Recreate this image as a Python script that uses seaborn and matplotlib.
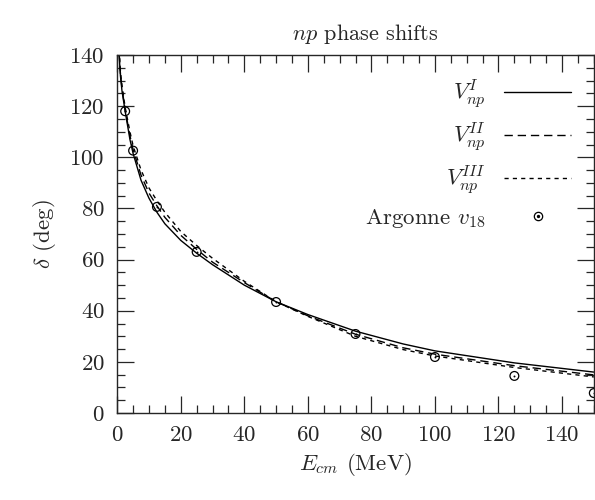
import matplotlib.pyplot as plt
import matplotlib.ticker as mtick
from matplotlib.lines import Line2D
from matplotlib.legend_handler import HandlerTuple
import numpy as np
import pandas as pd
import seaborn as sns

# ---- Data ----
e_curve = [0.6, 1.0, 1.5, 2.5, 4.0, 5.0, 7.5, 10.0, 12.5, 15.0, 20.0, 25.0, 30.0,
           40.0, 50.0, 60.0, 75.0, 90.0, 100.0, 125.0, 150.0]
delta_v1 = [140.0, 132.0, 126.0, 118.0, 107.0, 101.5, 91.0, 84.0, 78.5, 74.0, 67.5, 62.5, 58.0,
            50.0, 43.5, 38.5, 32.0, 27.0, 24.3, 19.6, 16.0]
delta_v2 = [141.0, 133.0, 127.0, 118.5, 108.5, 103.0, 93.0, 86.0, 81.0, 76.5, 69.5, 64.0, 59.0,
            51.0, 43.5, 38.0, 30.8, 25.5, 23.0, 18.5, 14.9]
delta_v3 = [142.0, 134.0, 128.0, 119.5, 110.0, 104.5, 95.0, 88.0, 83.0, 78.5, 71.0, 65.5, 60.5,
            51.5, 43.5, 37.8, 30.0, 24.8, 22.3, 17.8, 14.1]

e_argonne = [2.5, 5.0, 12.5, 25.0, 50.0, 75.0, 100.0, 125.0, 150.0]
delta_argonne = [118.0, 102.6, 80.6, 63.0, 43.4, 30.9, 21.9, 14.5, 7.8]

labels = [r"$V_{np}^{I}$", r"$V_{np}^{II}$", r"$V_{np}^{III}$", r"Argonne $v_{18}$"]

curves = pd.DataFrame({"E": e_curve * 3,
                       "delta": delta_v1 + delta_v2 + delta_v3,
                       "model": [labels[0]] * len(e_curve) + [labels[1]] * len(e_curve)
                                + [labels[2]] * len(e_curve)})
points = pd.DataFrame({"E": e_argonne, "delta": delta_argonne})

# ---- Style ----
sns.set_style("ticks")
plt.rcParams["font.family"] = "serif"
plt.rcParams["font.serif"] = ["cmr10", "DejaVu Serif"]
plt.rcParams["mathtext.fontset"] = "cm"
plt.rcParams["axes.formatter.use_mathtext"] = True
plt.rcParams["font.size"] = 16.5

fig = plt.figure(figsize=(5.95, 5.0), dpi=100)
ax = fig.add_axes([0.197, 0.174, 0.801, 0.716])

styles = {labels[0]: None, labels[1]: (6, 3.5), labels[2]: (3, 3)}
for lab in labels[:3]:
    sub = curves[curves["model"] == lab]
    sns.lineplot(data=sub, x="E", y="delta", ax=ax, color="black", lw=1.0,
                 sort=False, estimator=None)
    if styles[lab] is not None:
        ax.lines[-1].set_dashes(styles[lab])

sns.scatterplot(data=points, x="E", y="delta", ax=ax, marker="o", s=40,
                facecolors="none", edgecolor="black", linewidth=0.9)
sns.scatterplot(data=points, x="E", y="delta", ax=ax, marker="o", s=2,
                color="black", edgecolor="black", linewidth=0)

ax.set_xlim(0, 150)
ax.set_ylim(0, 140)
ax.xaxis.set_major_locator(mtick.MultipleLocator(20))
ax.xaxis.set_minor_locator(mtick.MultipleLocator(5))
ax.yaxis.set_major_locator(mtick.MultipleLocator(20))
ax.yaxis.set_minor_locator(mtick.MultipleLocator(5))
ax.tick_params(which="both", direction="in", top=True, right=True, width=0.9, pad=9)
ax.tick_params(which="major", length=12)
ax.tick_params(which="minor", length=6)
for sp in ax.spines.values():
    sp.set_linewidth(1.0)
    sp.set_visible(True)

ax.set_xlabel(r"$E_{cm}$ (MeV)", labelpad=4)
ax.set_ylabel(r"$\delta$ (deg)", labelpad=8)
ax.set_title(r"$np$ phase shifts", fontsize=16, pad=11, x=0.52)

open_c = Line2D([], [], color="black", lw=0, marker="o", markersize=6,
                markerfacecolor="none", markeredgewidth=0.9)
dot = Line2D([], [], color="black", lw=0, marker="o", markersize=1.4)
handles = [Line2D([], [], color="black", lw=1.0),
           Line2D([], [], color="black", lw=1.0, dashes=(6, 3.5)),
           Line2D([], [], color="black", lw=1.0, dashes=(3, 3)),
           (open_c, dot)]
ax.legend(handles, labels, loc="upper right", markerfirst=False, frameon=False,
          handlelength=2.9, handletextpad=0.8, labelspacing=0.42,
          borderaxespad=0.6, fontsize=16.5,
          handler_map={tuple: HandlerTuple(ndivide=1)})

fig.savefig("out.png", dpi=100)
